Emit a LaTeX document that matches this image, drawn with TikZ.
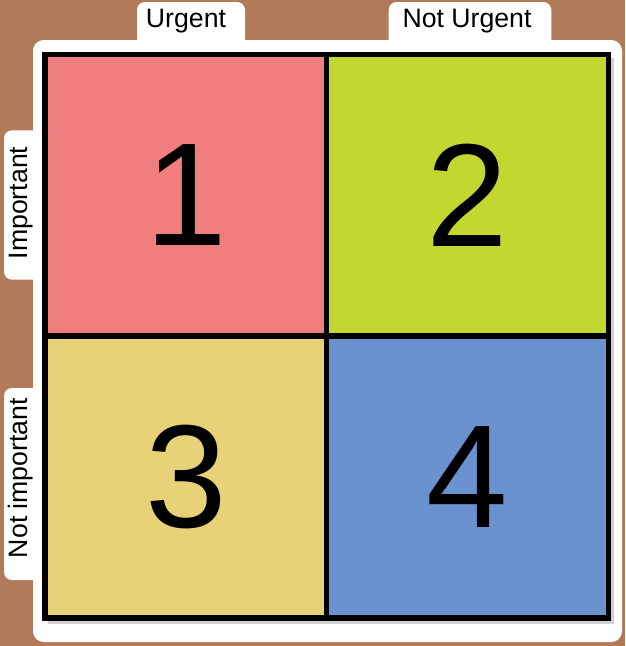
\documentclass[tikz,border=0pt]{standalone}
\usepackage{fontspec}
\setmainfont{Liberation Sans}
\usetikzlibrary{shadows}
\definecolor{bgbrown}{RGB}{178,122,88}
\definecolor{qred}{RGB}{240,126,126}
\definecolor{qgreen}{RGB}{194,216,48}
\definecolor{qyellow}{RGB}{232,210,120}
\definecolor{qblue}{RGB}{106,146,206}
\tikzset{
  quad/.style={draw=black, line width=3.8pt, inner sep=0pt, minimum width=211.5pt, minimum height=211.5pt, font=\fontsize{110}{110}\selectfont},
  pill/.style={fill=white, rounded corners=6pt, inner sep=0pt, font=\fontsize{20}{20}\selectfont},
}
\begin{document}
\begin{tikzpicture}[x=0.75pt, y=-0.75pt]
\useasboundingbox (0,0) rectangle (625,646);
\fill[bgbrown] (0,0) rectangle (625,646);
% white panel and tabs
\fill[white, rounded corners=8pt] (33,40) rectangle (622,642);
\node[pill, minimum width=81pt, minimum height=36pt] (tabU) at (191,26) {};
\node[pill, minimum width=122pt, minimum height=36pt] (tabNU) at (470,26) {};
\node[pill, minimum width=30pt, minimum height=112pt] (tabI) at (24,205) {};
\node[pill, minimum width=30pt, minimum height=144pt] (tabNI) at (24,484) {};
% shadow of grid
\fill[black!18] (48,58) rectangle (614,624);
% quadrants
\node[quad, fill=qred] (q1) at (186,195.5) {1};
\node[quad, fill=qgreen] (q2) at (467.5,195.5) {2};
\node[quad, fill=qyellow] (q3) at (186,477) {3};
\node[quad, fill=qblue] (q4) at (467.5,477) {4};
% labels
\node[font=\fontsize{20}{20}\selectfont, anchor=base] (lu) at (186,27) {Urgent};
\node[font=\fontsize{20}{20}\selectfont, anchor=base] (lnu) at (467,27) {Not Urgent};
\node[font=\fontsize{20}{20}\selectfont, anchor=base, rotate=90] (li) at (27,203) {Important};
\node[font=\fontsize{20}{20}\selectfont, anchor=base, rotate=90] (lni) at (27,478) {Not important};
\end{tikzpicture}
\end{document}
